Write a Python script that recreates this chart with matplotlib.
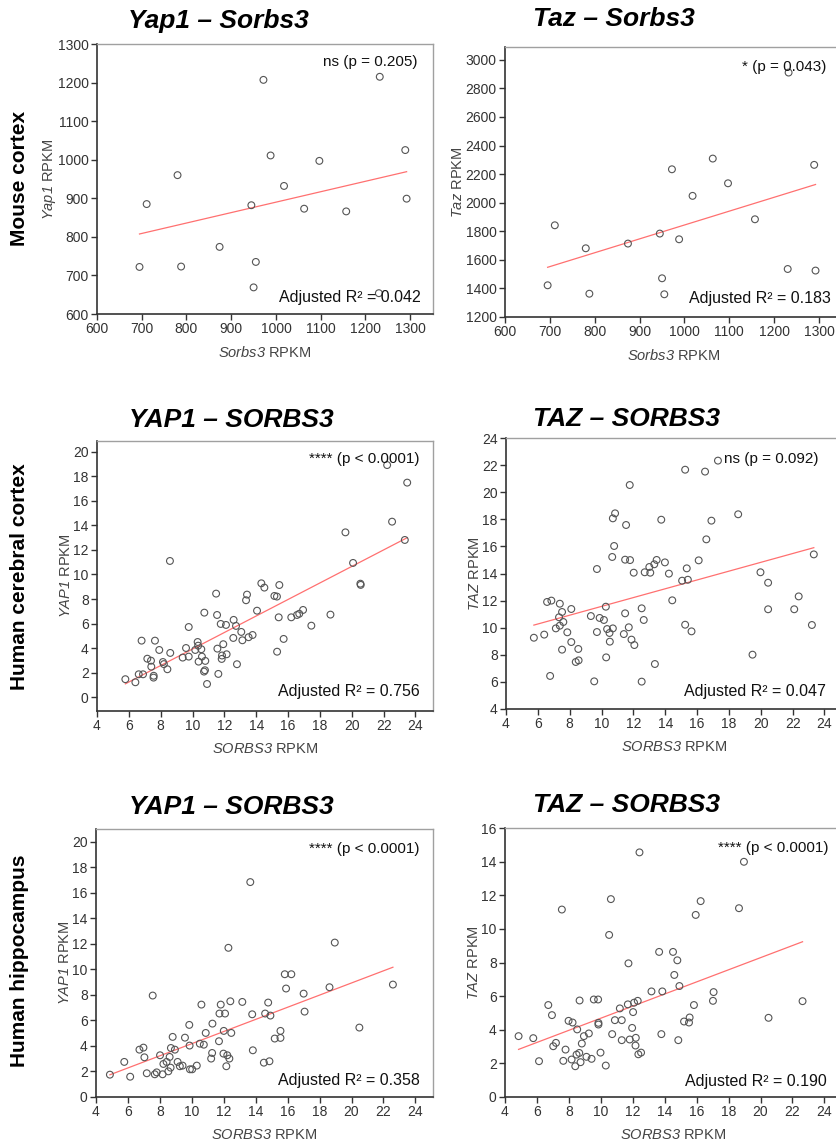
import matplotlib
matplotlib.use("Agg")
import matplotlib.pyplot as plt
import numpy as np

plt.rcParams['font.family'] = ['Liberation Sans', 'DejaVu Sans']
# math text is only used for the italic gene names (digits italic too)
plt.rcParams['mathtext.fontset'] = 'custom'
plt.rcParams['mathtext.rm'] = 'Liberation Sans:italic'
plt.rcParams['mathtext.it'] = 'Liberation Sans:italic'

# ---- data ----
# mouse cortex (shared Sorbs3 values)
mouse_sorbs3 = [695, 711, 780, 788, 874, 945, 950, 955, 972, 988,
                1018, 1063, 1097, 1157, 1232, 1230, 1289, 1292]
mouse_yap1 = [722, 885, 960, 723, 774, 882, 669, 735, 1207, 1011,
              932, 873, 997, 866, 1215, 654, 1025, 899]
mouse_taz = [1422, 1842, 1681, 1363, 1714, 1784, 1471, 1359, 2234, 1744,
             2048, 2309, 2136, 1884, 2911, 1536, 2265, 1525]

# human cerebral cortex, YAP1
ctx_yap1_x = [5.78, 6.41, 6.62, 6.89, 6.80, 7.16, 7.39, 7.41, 7.56, 7.55,
              7.64, 7.91, 8.14, 8.20, 8.42, 8.60, 8.58, 9.38, 9.59, 9.76,
              9.76, 10.17, 10.32, 10.35, 10.55, 10.59, 10.38, 10.80, 10.72, 10.78,
              10.91, 10.74, 11.48, 11.54, 11.56, 11.62, 11.77, 11.83, 11.85, 11.93,
              12.10, 12.14, 12.58, 12.56, 12.73, 12.79, 13.06, 13.13, 13.36, 13.42,
              13.52, 13.77, 14.05, 14.32, 14.51, 15.14, 15.30, 15.45, 15.31, 15.41,
              15.72, 16.20, 16.56, 16.70, 16.94, 17.46, 18.66, 19.60, 20.08, 20.54,
              20.56, 22.22, 22.53, 23.33, 23.48]
ctx_yap1_y = [1.47, 1.22, 1.87, 1.87, 4.61, 3.14, 2.98, 2.49, 1.75, 1.60,
              4.61, 3.85, 2.87, 2.70, 2.28, 3.61, 11.10, 3.23, 4.01, 5.72,
              3.31, 3.85, 4.50, 4.20, 3.91, 3.31, 2.90, 2.96, 2.09, 2.20,
              1.08, 6.89, 8.44, 6.70, 3.96, 1.90, 5.97, 3.12, 3.40, 4.32,
              5.89, 3.50, 6.30, 4.83, 5.81, 2.69, 5.32, 4.64, 7.90, 8.36,
              4.89, 5.07, 7.05, 9.28, 8.93, 8.25, 8.20, 9.14, 3.71, 6.51,
              4.75, 6.51, 6.70, 6.80, 7.11, 5.83, 6.73, 13.43, 10.94, 9.25,
              9.15, 18.91, 14.30, 12.81, 17.48]

# human cerebral cortex, TAZ
ctx_taz_x = [5.75, 6.40, 6.58, 6.85, 6.77, 7.13, 7.38, 7.33, 7.38, 7.52,
             7.60, 7.52, 7.85, 8.10, 8.10, 8.54, 8.38, 8.56, 9.33, 9.71,
             9.71, 9.88, 10.15, 9.54, 10.27, 10.29, 10.35, 10.50, 10.52, 10.71,
             10.67, 10.71, 10.85, 10.79, 11.40, 11.48, 11.48, 11.54, 11.79, 11.77,
             11.71, 11.88, 12.06, 12.02, 12.52, 12.52, 12.65, 12.71, 13.00, 13.06,
             13.31, 13.46, 13.35, 13.75, 13.98, 14.23, 14.44, 15.06, 15.25, 15.25,
             15.35, 15.42, 15.65, 16.10, 16.50, 16.58, 16.90, 17.31, 18.58, 19.48,
             19.98, 20.46, 20.46, 22.10, 22.38, 23.21, 23.33]
ctx_taz_y = [9.26, 9.49, 11.90, 12.00, 6.44, 9.95, 11.77, 10.77, 10.15, 11.16,
             10.42, 8.38, 9.66, 11.38, 8.94, 8.43, 7.47, 7.59, 10.86, 14.33,
             9.68, 10.72, 10.57, 6.04, 11.55, 7.81, 9.90, 9.61, 8.97, 9.95,
             15.22, 18.07, 18.44, 16.03, 9.53, 11.06, 15.02, 17.58, 14.99, 20.53,
             10.03, 9.12, 8.72, 14.06, 11.43, 6.02, 10.57, 14.09, 14.48, 14.06,
             14.68, 15.00, 7.32, 17.97, 14.82, 13.99, 12.02, 13.47, 21.66, 10.22,
             14.38, 13.54, 9.73, 14.97, 21.52, 16.52, 17.90, 22.33, 18.37, 8.01,
             14.09, 13.32, 11.36, 11.36, 12.31, 10.20, 15.41]

# human hippocampus, YAP1
hip_yap1_x = [4.87, 5.77, 6.14, 6.72, 6.97, 7.03, 7.18, 7.55, 7.68, 7.80,
              8.01, 8.17, 8.22, 8.42, 8.53, 8.61, 8.67, 8.69, 8.80, 8.94,
              9.11, 9.25, 9.42, 9.57, 9.84, 9.86, 9.88, 10.02, 10.31, 10.50,
              10.60, 10.75, 10.87, 11.27, 11.21, 11.29, 11.70, 11.73, 11.81, 12.00,
              12.08, 11.98, 12.22, 12.16, 12.35, 12.29, 12.41, 12.47, 13.16, 13.66,
              13.78, 13.82, 14.51, 14.59, 14.78, 14.86, 14.92, 15.19, 15.55, 15.55,
              15.82, 15.90, 16.23, 17.00, 17.06, 18.62, 18.95, 20.49, 22.59]
hip_yap1_y = [1.75, 2.75, 1.59, 3.71, 3.87, 3.11, 1.86, 7.95, 1.78, 1.93,
              3.27, 1.78, 2.59, 2.75, 2.01, 3.14, 2.30, 3.84, 4.71, 3.71,
              2.75, 2.41, 2.46, 4.65, 5.65, 4.03, 2.17, 2.17, 2.46, 4.18,
              7.24, 4.10, 5.02, 3.45, 3.01, 5.75, 4.37, 6.54, 7.24, 5.18,
              6.54, 3.40, 3.27, 2.41, 3.01, 11.69, 7.50, 5.02, 7.45, 16.84,
              6.48, 3.66, 2.69, 6.54, 7.40, 2.80, 6.38, 4.58, 5.18, 4.63,
              9.62, 8.50, 9.62, 8.10, 6.69, 8.60, 12.10, 5.44, 8.81]

# human hippocampus, TAZ
hip_taz_x = [4.85, 5.77, 6.13, 6.71, 6.94, 7.02, 7.19, 7.56, 7.65, 7.79,
             7.98, 8.23, 8.17, 8.40, 8.52, 8.48, 8.65, 8.67, 8.73, 8.81,
             8.94, 9.10, 9.25, 9.42, 9.56, 9.83, 9.85, 9.85, 9.98, 10.31,
             10.52, 10.63, 10.71, 10.88, 11.19, 11.31, 11.31, 11.69, 11.73, 11.81,
             11.96, 12.02, 12.08, 12.19, 12.17, 12.31, 12.35, 12.52, 12.42, 13.17,
             13.65, 13.79, 13.85, 14.52, 14.60, 14.79, 14.85, 14.92, 15.21, 15.52,
             15.56, 15.83, 15.94, 16.25, 17.02, 17.06, 18.65, 18.96, 20.50, 22.63]
hip_taz_y = [3.62, 3.50, 2.13, 5.47, 4.87, 3.02, 3.22, 11.15, 2.15, 2.82,
             4.53, 4.43, 2.23, 1.83, 4.02, 2.52, 2.62, 5.74, 2.07, 3.18,
             3.62, 2.39, 3.78, 2.27, 5.80, 5.80, 4.31, 4.41, 2.64, 1.87,
             9.64, 11.77, 3.74, 4.57, 5.27, 4.57, 3.38, 5.51, 7.95, 3.42,
             4.11, 5.05, 5.61, 3.52, 3.06, 5.72, 2.54, 2.64, 14.55, 6.28,
             8.63, 3.74, 6.28, 8.63, 7.26, 8.13, 3.38, 6.60, 4.49, 4.43,
             4.73, 5.47, 10.83, 11.65, 5.72, 6.24, 11.23, 13.99, 4.71, 5.70]

row_labels = ["Mouse cortex", "Human cerebral cortex", "Human hippocampus"]
p_texts = ["ns (p = 0.205)", "* (p = 0.043)", "**** (p < 0.0001)",
           "ns (p = 0.092)", "**** (p < 0.0001)", "**** (p < 0.0001)"]
r2_texts = ["Adjusted R\u00b2 = 0.042", "Adjusted R\u00b2 = 0.183",
            "Adjusted R\u00b2 = 0.756", "Adjusted R\u00b2 = 0.047",
            "Adjusted R\u00b2 = 0.358", "Adjusted R\u00b2 = 0.190"]

W, H = 837, 1144
fig = plt.figure(figsize=(W / 100, H / 100), dpi=100)

# box = axes edges in pixels (left, top, right, bottom)
panels = [
    dict(x=mouse_sorbs3, y=mouse_yap1, box=(97, 44, 433, 314),
         xlim=(600, 1351), ylim=(600, 1300), yt=np.arange(600, 1301, 100),
         xt=np.arange(600, 1301, 100), title="Yap1 \u2013 Sorbs3", tpos=(218, 21),
         xl=r"$Sorbs3$ RPKM", yl=r"$Yap1$ RPKM",
         pp=(0.955, 0.933), rp=(0.964, 0.06)),
    dict(x=mouse_sorbs3, y=mouse_taz, box=(505, 47, 842, 317),
         xlim=(600, 1351), ylim=(1200, 3090), yt=np.arange(1200, 3001, 200),
         xt=np.arange(600, 1301, 100), title="Taz \u2013 Sorbs3", tpos=(614, 19),
         xl=r"$Sorbs3$ RPKM", yl=r"$Taz$ RPKM",
         pp=(0.955, 0.926), rp=(0.967, 0.067)),
    dict(x=ctx_yap1_x, y=ctx_yap1_y, box=(97, 441, 433, 711),
         xlim=(4, 25.1), ylim=(-1.12, 20.87), yt=np.arange(0, 21, 2),
         xt=np.arange(4, 25, 2), title="YAP1 \u2013 SORBS3", tpos=(231, 420),
         xl=r"$SORBS3$ RPKM", yl=r"$YAP1$ RPKM",
         pp=(0.961, 0.933), rp=(0.961, 0.074)),
    dict(x=ctx_taz_x, y=ctx_taz_y, box=(506, 438, 842, 709),
         xlim=(4, 25.1), ylim=(4, 24), yt=np.arange(4, 25, 2),
         xt=np.arange(4, 25, 2), title="TAZ \u2013 SORBS3", tpos=(627, 419),
         xl=r"$SORBS3$ RPKM", yl=r"$TAZ$ RPKM",
         pp=(0.93, 0.923), rp=(0.952, 0.066)),
    dict(x=hip_yap1_x, y=hip_yap1_y, box=(96, 829, 433, 1097),
         xlim=(4, 25.1), ylim=(0, 21), yt=np.arange(0, 21, 2),
         xt=np.arange(4, 25, 2), title="YAP1 \u2013 SORBS3", tpos=(231, 807),
         xl=r"$SORBS3$ RPKM", yl=r"$YAP1$ RPKM",
         pp=(0.961, 0.925), rp=(0.961, 0.06)),
    dict(x=hip_taz_x, y=hip_taz_y, box=(505, 828, 842, 1097),
         xlim=(4, 25.1), ylim=(0, 16), yt=np.arange(0, 17, 2),
         xt=np.arange(4, 25, 2), title="TAZ \u2013 SORBS3", tpos=(627, 805),
         xl=r"$SORBS3$ RPKM", yl=r"$TAZ$ RPKM",
         pp=(0.961, 0.925), rp=(0.955, 0.056)),
]

for i, p in enumerate(panels):
    l, t, r, b = p['box']
    ax = fig.add_axes([l / W, 1 - b / H, (r - l) / W, (b - t) / H])
    x = np.array(p['x'], dtype=float)
    y = np.array(p['y'], dtype=float)
    ax.scatter(x, y, s=24, facecolors='none', edgecolors='#555555',
               linewidths=0.8, zorder=3)
    # linear regression line over the data range
    k, c = np.polyfit(x, y, 1)
    xx = np.array([x.min(), x.max()])
    ax.plot(xx, k * xx + c, color='#ff7070', lw=0.9, zorder=2)

    ax.set_xlim(*p['xlim'])
    ax.set_ylim(*p['ylim'])
    ax.set_xticks(p['xt'])
    ax.set_yticks(p['yt'])
    ax.tick_params(direction='out', length=4, width=1, colors='#333333',
                   labelsize=10, pad=2)
    for s in ['left', 'bottom']:
        ax.spines[s].set_color('#333333')
        ax.spines[s].set_linewidth(1.2)
    for s in ['top', 'right']:
        ax.spines[s].set_color('#a0a0a0')
        ax.spines[s].set_linewidth(1.0)
    ax.set_xlabel(p['xl'], fontsize=10.5, color='#444444', labelpad=6)
    ax.set_ylabel(p['yl'], fontsize=10.5, color='#444444', labelpad=0)

    ax.text(p['pp'][0], p['pp'][1], p_texts[i], transform=ax.transAxes,
            ha='right', va='center', fontsize=11, color='#111111')
    ax.text(p['rp'][0], p['rp'][1], r2_texts[i], transform=ax.transAxes,
            ha='right', va='center', fontsize=11.5, color='#111111')

    fig.text(p['tpos'][0] / W, 1 - p['tpos'][1] / H, p['title'],
             ha='center', va='center', fontsize=19, fontweight='bold',
             fontstyle='italic', color='black')

row_y = [178, 577, 961]
for lab, yy in zip(row_labels, row_y):
    fig.text(20 / W, 1 - yy / H, lab, rotation=90, ha='center', va='center',
             fontsize=15, fontweight='bold', color='black')

fig.savefig("out.png", dpi=100)
